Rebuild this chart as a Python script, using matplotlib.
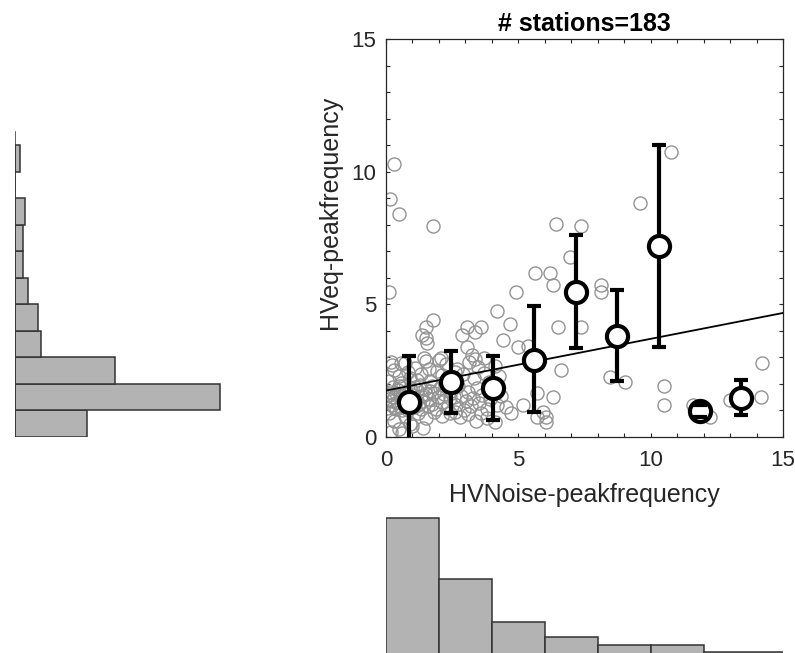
import numpy as np
import matplotlib
matplotlib.use('Agg')
import matplotlib.pyplot as plt
from matplotlib.ticker import MultipleLocator

plt.rcParams['font.family'] = ['Liberation Sans', 'DejaVu Sans']

# station peak frequencies: noise H/V (x) vs earthquake H/V (y)
hv_noise = [0.30, 0.14, 0.49, 1.79, 6.42, 7.35, 9.58, 10.77, 0.11, 4.92,
            5.62, 6.19, 6.31, 6.94, 8.14, 8.14, 4.18, 4.68, 1.79, 1.50,
            1.37, 1.50, 3.07, 3.60, 3.35, 2.88, 4.42, 6.48, 7.38, 4.99,
            5.37, 6.63, 5.69, 6.31, 5.16, 4.74, 5.94, 5.69, 6.03, 6.06,
            8.45, 9.02, 10.49, 10.49, 11.60, 12.26, 12.98, 14.18, 14.21, 11.90,
            1.56, 3.07, 1.43, 2.06, 3.26, 3.70, 0.55, 0.18,
            # y between 0 and 1
            0.10, 0.30, 0.50, 0.70, 0.90, 1.20, 1.50, 1.80, 2.10, 2.40,
            2.80, 3.10, 3.40, 3.80, 4.10, 0.20, 0.60, 1.00, 1.40, 2.60, 3.60,
            # y between 1 and 2
            0.05, 0.12, 0.17, 0.22, 0.27, 0.31, 0.37, 0.42, 0.44, 0.52,
            0.55, 0.63, 0.66, 0.71, 0.77, 0.82, 0.86, 0.92, 0.96, 1.02,
            1.04, 1.12, 1.16, 1.21, 1.27, 1.31, 1.33, 1.41, 1.46, 1.52,
            1.57, 1.61, 1.72, 1.74, 1.83, 1.88, 1.97, 2.03, 2.12, 2.18,
            2.31, 2.42, 2.47, 2.63, 2.71, 2.82, 2.93, 3.02, 3.08, 3.22,
            3.28, 3.42, 3.53, 3.64, 3.81, 3.93, 4.04, 4.21, 4.33, 4.52,
            0.08, 0.36, 0.61, 0.87, 1.09, 0.24, 0.48, 0.74, 1.26, 0.29,
            2.56, 1.66,
            # y between 2 and 3
            0.10, 0.32, 0.48, 0.73, 0.91, 1.08, 1.33, 1.52, 1.68, 1.92,
            2.11, 2.28, 2.53, 2.68, 2.91, 3.12, 3.31, 3.48, 3.72, 3.88,
            4.12, 4.28, 0.21, 0.58, 0.82, 1.19, 1.61, 2.02, 2.62, 3.38]
hv_eq = [10.30, 8.97, 8.39, 7.94, 8.04, 7.94, 8.82, 10.73, 5.46, 5.46,
         6.18, 6.18, 5.74, 6.78, 5.74, 5.48, 4.73, 4.26, 4.42, 4.14,
         3.85, 3.72, 4.14, 4.14, 3.94, 3.85, 3.66, 4.14, 4.14, 3.41,
         3.43, 2.53, 1.65, 1.52, 1.21, 0.92, 0.95, 0.77, 0.77, 0.58,
         2.28, 2.09, 1.92, 1.21, 1.21, 0.77, 1.40, 1.50, 2.80, 0.95,
         3.53, 3.41, 2.97, 2.97, 3.09, 2.97, 2.78, 2.84,
         0.90, 0.60, 0.30, 0.80, 0.50, 0.90, 0.70, 0.95, 0.80, 0.90,
         0.75, 0.85, 0.60, 0.70, 0.55, 0.20, 0.15, 0.40, 0.35, 0.95, 0.90,
         1.10, 1.42, 1.68, 1.21, 1.88, 1.52, 1.06, 1.31, 1.79, 1.62,
         1.14, 1.47, 1.93, 1.24, 1.71, 1.03, 1.51, 1.86, 1.28, 1.58,
         1.12, 1.38, 1.76, 1.19, 1.96, 1.54, 1.07, 1.36, 1.82, 1.61,
         1.16, 1.44, 1.91, 1.26, 1.66, 1.04, 1.49, 1.84, 1.32, 1.63,
         1.09, 1.46, 1.73, 1.22, 1.92, 1.55, 1.01, 1.37, 1.69, 1.17,
         1.48, 1.83, 1.27, 1.59, 1.06, 1.43, 1.78, 1.21, 1.56, 1.12,
         1.57, 1.64, 1.02, 1.18, 1.89, 1.34, 1.91, 1.45, 1.25, 1.14,
         1.50, 1.72,
         2.10, 2.52, 2.31, 2.79, 2.22, 2.61, 2.38, 2.88, 2.12, 2.49,
         2.33, 2.74, 2.16, 2.56, 2.36, 2.83, 2.21, 2.63, 2.41, 2.09,
         2.68, 2.29, 2.71, 2.05, 2.46, 2.14, 2.58, 2.91, 2.44, 2.94]

# binned means with error bars
bin_x = [0.88, 2.45, 4.03, 5.58, 7.17, 8.73, 10.31, 11.85, 13.42]
bin_y = [1.33, 2.09, 1.84, 2.90, 5.45, 3.81, 7.21, 0.98, 1.48]
bin_lo = [-0.40, 0.92, 0.64, 0.94, 3.36, 2.11, 3.41, 0.77, 0.82]
bin_hi = [3.05, 3.26, 3.07, 4.94, 7.60, 5.55, 10.99, 1.19, 2.16]

# linear fit
fit_a = 0.195
fit_b = 1.75

# histogram of hv_eq (bins of 1 from 0 to 11)
eq_edges = [0, 1, 2, 3, 4, 5, 6, 7, 8, 9, 10, 11]
eq_counts = [28, 80, 39, 10, 9, 5, 3, 3, 4, 0, 2]

# histogram of hv_noise
noise_edges = [0, 2, 4, 6, 8, 10, 12, 16]
noise_counts = [64, 40, 23, 17, 14, 14, 11]

W, H = 795, 653
fig = plt.figure(figsize=(W / 100, H / 100), dpi=100)

ax = fig.add_axes([386 / W, 1 - 437 / H, 397 / W, 398 / H])
ax.plot(hv_noise, hv_eq, 'o', ms=9.4, mfc='none', mec='#939393', mew=1.0, zorder=2)

xx = np.array([0, 15])
ax.plot(xx, fit_b + fit_a * xx, color='k', lw=1.3, zorder=3)

bin_y = np.array(bin_y)
yerr = [bin_y - np.array(bin_lo), np.array(bin_hi) - bin_y]
line, caps, bars = ax.errorbar(bin_x, bin_y, yerr=yerr, fmt='none', ecolor='k',
                               elinewidth=3, capsize=4.8, capthick=3)
for b in bars:
    b.set_zorder(4)
ax.plot(bin_x, bin_y, 'o', ms=15.2, mfc='white', mec='k', mew=3, zorder=5)
for c in caps:
    c.set_zorder(6)

ax.set_xlim(0, 15)
ax.set_ylim(0, 15)
ax.xaxis.set_major_locator(MultipleLocator(5))
ax.yaxis.set_major_locator(MultipleLocator(5))
ax.xaxis.set_minor_locator(MultipleLocator(1))
ax.yaxis.set_minor_locator(MultipleLocator(1))
ax.tick_params(which='both', direction='in', top=True, right=True,
               length=3, width=0.8, color='#262626')
ax.tick_params(axis='x', labelsize=16, pad=9, labelcolor='#262626')
ax.tick_params(axis='y', labelsize=16, pad=7, labelcolor='#262626')
for s in ax.spines.values():
    s.set_linewidth(0.9)
    s.set_color('#262626')
ax.set_xlabel('HVNoise-peakfrequency', fontsize=18, color='#262626', labelpad=9)
ax.set_ylabel('HVeq-peakfrequency', fontsize=18, color='#262626')
ax.yaxis.set_label_coords(-0.11, 0.565)
ax.set_title('# stations=183', fontsize=18, fontweight='bold', pad=6)

# hv_eq histogram, horizontal, left of the scatter
axl = fig.add_axes([15 / W, 1 - 437 / H, 300 / W, 398 / H])
axl.barh(eq_edges[:-1], eq_counts, height=np.diff(eq_edges), align='edge',
         color='#b3b3b3', edgecolor='#333333', lw=1.1)
axl.plot([0, 0], [0, 11.5], color='#333333', lw=1.1)
axl.set_xlim(0, 300 / 2.563)
axl.set_ylim(0, 15)
axl.axis('off')

# hv_noise histogram under the scatter
axb = fig.add_axes([386 / W, 1 - 680.1 / H, 397 / W, 200 / H])
axb.bar(noise_edges[:-1], noise_counts, width=np.diff(noise_edges), align='edge',
        color='#b3b3b3', edgecolor='#333333', lw=1.1)
axb.set_xlim(0, 15)
axb.set_ylim(0, 200 / 2.528)
axb.axis('off')

fig.savefig('out.png', dpi=100)
